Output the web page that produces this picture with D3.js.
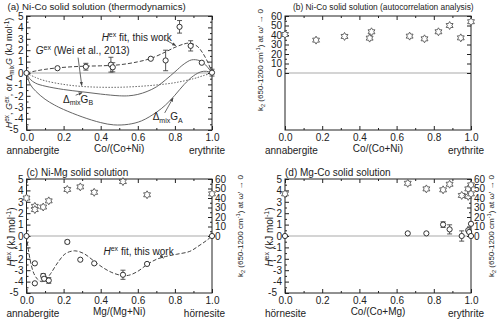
<!DOCTYPE html>
<html><head><meta charset="utf-8">
<script src="https://cdn.jsdelivr.net/npm/d3@7"></script>
<style>body{margin:0;background:#fff} svg{font-family:"Liberation Sans",Arial,sans-serif}</style>
</head><body><svg id="c" width="500" height="325"></svg>
<script>
// ---------- DATA ----------
const xTicks = [0, 0.2, 0.4, 0.6, 0.8, 1.0];
const xMinorTicks = [0.1, 0.3, 0.5, 0.7, 0.9];
const hTicks = [-5, -4, -3, -2, -1, 0, 1, 2, 3, 4, 5];
const hMinorTicks = [-4.5, -3.5, -2.5, -1.5, -0.5, 0.5, 1.5, 2.5, 3.5, 4.5];
const kTicks = [0, 10, 20, 30, 40, 50, 60];
const kMinorTicks = [5, 15, 25, 35, 45, 55];

// (a)/(b) Ni-Co
const ncX = [0, 0.167, 0.32, 0.455, 0.465, 0.67, 0.75, 0.825, 0.885, 0.945, 1.0];
const ncHex = [0, 0.42, 0.55, 0.73, 0.5, 1.25, 1.1, 4.05, 2.38, 0.9, 0.03];
const ncHexErr = [0, 0, 0.3, 0.65, 0.4, 0, 0.9, 0.55, 0.45, 0, 0.3];
const ncK2 = [40.5, 34.6, 38.5, 36.7, 43.4, 38.8, 36, 43.4, 50, 37, 54];

const ncFitX = [0, 0.05, 0.1, 0.167, 0.25, 0.32, 0.4, 0.5, 0.6, 0.67, 0.75, 0.8, 0.85, 0.88, 0.92, 0.95, 0.98, 1.0];
const ncFitY = [0, 0.18, 0.32, 0.45, 0.55, 0.6, 0.63, 0.72, 0.98, 1.28, 1.85, 2.25, 2.55, 2.62, 2.35, 1.75, 0.85, 0];
const weiX = [0, 0.05, 0.1, 0.2, 0.3, 0.4, 0.5, 0.6, 0.7, 0.8, 0.9, 0.95, 1.0];
const weiY = [0, -0.4, -0.68, -1.0, -1.18, -1.25, -1.25, -1.18, -1.05, -0.85, -0.5, -0.25, 0];
const dGbX = [0, 0.02, 0.05, 0.1, 0.2, 0.3, 0.4, 0.5, 0.55, 0.6, 0.65, 0.7, 0.75, 0.8, 0.85, 0.89, 0.93, 0.96, 1.0];
const dGbY = [0, -0.55, -0.9, -1.15, -1.45, -1.65, -1.85, -2.0, -2.0, -1.88, -1.62, -1.22, -0.6, 0.1, 0.8, 1.15, 1.1, 0.8, 0];
const dGaX = [0, 0.02, 0.05, 0.1, 0.15, 0.2, 0.3, 0.4, 0.47, 0.55, 0.62, 0.7, 0.75, 0.8, 0.85, 0.9, 0.94, 0.97, 1.0];
const dGaY = [0, -1.0, -1.6, -2.3, -2.8, -3.2, -3.85, -4.35, -4.55, -4.5, -4.2, -3.45, -2.8, -1.95, -1.0, -0.25, 0.1, 0.15, 0];

// (c) Ni-Mg
const nmX = [0, 0.045, 0.045, 0.09, 0.095, 0.12, 0.22, 0.29, 0.365, 0.52, 0.65, 1.0];
const nmHex = [0, -2.4, -4.15, -3.5, -3.75, -3.9, -0.52, -2.08, -2.4, -3.4, -2.45, 0];
const nmHexErr = [0, 0, 0, 0.2, 0.2, 0.25, 0.15, 0, 0, 0.4, 0, 0];
const nmK2X = [0, 0.045, 0.045, 0.09, 0.12, 0.22, 0.29, 0.365, 0.52, 0.65, 1.0];
const nmK2 = [40, 31.2, 27.8, 30.5, 37, 49, 51.7, 46, 57.3, 43.4, 44.4];
const nmFitX = [0, 0.01, 0.025, 0.04, 0.06, 0.08, 0.1, 0.13, 0.17, 0.21, 0.26, 0.31, 0.36, 0.41, 0.46, 0.51, 0.55, 0.6, 0.65, 0.7, 0.75, 0.81, 0.88, 0.93, 0.97, 1.0];
const nmFitY = [0, -1.2, -2.5, -3.3, -3.8, -4.0, -3.9, -3.3, -2.3, -1.55, -1.3, -1.55, -2.15, -2.75, -3.2, -3.45, -3.45, -3.1, -2.5, -2.05, -1.8, -1.6, -1.35, -0.85, -0.4, 0];

// (d) Mg-Co
const mcX = [0, 0.66, 0.76, 0.85, 0.885, 0.95, 0.985, 0.99, 1.0, 1.0];
const mcHex = [0, 0.23, 0.23, 1.0, 0.58, 0.0, 0.5, 0.35, 1.07, 0];
const mcHexErr = [0, 0, 0, 0.25, 0.4, 0.45, 0, 0, 0, 0];
const mcK2X = [0, 0.66, 0.76, 0.85, 0.885, 0.95, 0.985, 0.985, 1.0, 1.0];
const mcK2 = [44.4, 55.5, 49.6, 48.6, 54.5, 42.7, 49.6, 41.7, 53.8, 44.4];

// ---------- DRAWING ----------
const svg = d3.select('#c');
const FS = 10;
const INK = '#222';

svg.append('defs').append('marker').attr('id','arr').attr('viewBox','0 0 10 10')
  .attr('refX',9).attr('refY',5).attr('markerWidth',5).attr('markerHeight',5).attr('orient','auto')
  .append('path').attr('d','M0,1L10,5L0,9Z').attr('fill','#444');

function rich(g, parts, fs) {
  const t = g.append('text').attr('font-size', fs).attr('fill', INK);
  let shift = 0;
  parts.forEach(p => {
    const ts = t.append('tspan').text(p.t);
    let target = 0, size = fs;
    if (p.sup) { target = -fs * 0.38; size = fs * 0.7; }
    if (p.sub) { target = fs * 0.25; size = fs * 0.7; }
    ts.attr('font-size', size);
    if (p.i) ts.attr('font-style', 'italic');
    if (target !== shift) { ts.attr('dy', target - shift); shift = target; }
  });
  return t;
}

const hexStar = {
  draw(ctx, size) {
    const R = Math.sqrt(size) * 0.75, r = R / Math.sqrt(3);
    for (let i = 0; i < 12; i++) {
      const a = i * Math.PI / 6 - Math.PI / 2;
      const rr = i % 2 === 0 ? R : r;
      const px = rr * Math.cos(a), py = rr * Math.sin(a);
      if (i === 0) ctx.moveTo(px, py); else ctx.lineTo(px, py);
    }
    ctx.closePath();
  }
};

function styleAxis(a) {
  a.attr('font-size', FS).attr('font-family', null);
  a.select('.domain').remove();
  a.selectAll('line').attr('stroke', INK);
  a.selectAll('text').attr('fill', INK);
  return a;
}

function panel(o) {
  const g = svg.append('g');
  const x = d3.scaleLinear().domain([0, 1]).range([o.l, o.r]);
  const y = d3.scaleLinear().domain([-5, 5]).range([o.b, o.t]);
  const y2 = d3.scaleLinear().domain([-60, 60]).range([o.b, o.t]);
  const fmt = d => String(d);
  g.append('line').attr('x1', x(0)).attr('x2', x(1)).attr('y1', y(0)).attr('y2', y(0))
    .attr('stroke', '#aaa').attr('stroke-width', 1.2);
  styleAxis(g.append('g').attr('transform', `translate(0,${o.b})`)
    .call(d3.axisBottom(x).tickValues(xTicks).tickFormat(d3.format('.1f')).tickSize(-4).tickSizeOuter(0).tickPadding(4)));
  styleAxis(g.append('g').attr('transform', `translate(0,${o.b})`)
    .call(d3.axisBottom(x).tickValues(xMinorTicks).tickFormat('').tickSize(-2).tickSizeOuter(0)));
  styleAxis(g.append('g').attr('transform', `translate(0,${o.t})`)
    .call(d3.axisTop(x).tickValues(xTicks).tickFormat('').tickSize(-4).tickSizeOuter(0)));
  styleAxis(g.append('g').attr('transform', `translate(0,${o.t})`)
    .call(d3.axisTop(x).tickValues(xMinorTicks).tickFormat('').tickSize(-2).tickSizeOuter(0)));
  if (o.leftK) {
    styleAxis(g.append('g').attr('transform', `translate(${o.l},0)`)
      .call(d3.axisLeft(y2).tickValues(kTicks).tickFormat(fmt).tickSize(-4).tickSizeOuter(0).tickPadding(3)));
    styleAxis(g.append('g').attr('transform', `translate(${o.l},0)`)
      .call(d3.axisLeft(y2).tickValues(kMinorTicks).tickFormat('').tickSize(-2).tickSizeOuter(0)));
    styleAxis(g.append('g').attr('transform', `translate(${o.r},0)`)
      .call(d3.axisRight(y2).tickValues(kTicks).tickFormat('').tickSize(-4).tickSizeOuter(0)));
  } else {
    const la = styleAxis(g.append('g').attr('transform', `translate(${o.l},0)`)
      .call(d3.axisLeft(y).tickValues(hTicks).tickFormat(fmt).tickSize(-4).tickSizeOuter(0).tickPadding(3)));
    la.selectAll('.tick text').filter(d => d === -5).attr('dy', '0.2em').attr('x', -8);
    styleAxis(g.append('g').attr('transform', `translate(${o.l},0)`)
      .call(d3.axisLeft(y).tickValues(hMinorTicks).tickFormat('').tickSize(-2).tickSizeOuter(0)));
    if (o.rightK) {
      styleAxis(g.append('g').attr('transform', `translate(${o.r},0)`)
        .call(d3.axisRight(y2).tickValues(kTicks).tickFormat(fmt).tickSize(-4).tickSizeOuter(0).tickPadding(3)));
      styleAxis(g.append('g').attr('transform', `translate(${o.r},0)`)
        .call(d3.axisRight(y2).tickValues(kMinorTicks).tickFormat('').tickSize(-2).tickSizeOuter(0)));
    } else {
      styleAxis(g.append('g').attr('transform', `translate(${o.r},0)`)
        .call(d3.axisRight(y).tickValues(hTicks).tickFormat('').tickSize(-4).tickSizeOuter(0)));
      styleAxis(g.append('g').attr('transform', `translate(${o.r},0)`)
        .call(d3.axisRight(y).tickValues(hMinorTicks).tickFormat('').tickSize(-2).tickSizeOuter(0)));
    }
  }
  g.append('rect').attr('x', o.l).attr('y', o.t).attr('width', o.r - o.l).attr('height', o.b - o.t)
    .attr('fill', 'none').attr('stroke', INK).attr('stroke-width', 1);
  g.append('text').attr('x', o.l + o.titleDx).attr('y', o.t - o.titleGap).attr('font-size', o.titleFs || FS).attr('fill', INK).text(o.title);
  g.append('text').attr('x', (o.l + o.r) / 2).attr('y', o.b + 22).attr('text-anchor', 'middle')
    .attr('font-size', FS).attr('fill', INK).text(o.xTitle);
  g.append('text').attr('x', o.l - 20).attr('y', o.b + 24).attr('font-size', FS).attr('fill', INK).text(o.leftName);
  g.append('text').attr('x', o.r + 13).attr('y', o.b + 24).attr('text-anchor', 'end').attr('font-size', FS).attr('fill', INK).text(o.rightName);
  return { g, x, y, y2, o };
}

const k2Label = [{t:'k'},{t:'2',sub:1},{t:' (650-1200 cm'},{t:'-1',sup:1},{t:') at ω\u2032 \u2192 0'}];
const hexLabel = [{t:'H',i:1},{t:'ex',sup:1},{t:' (kJ mol'},{t:'-1',sup:1},{t:')'}];

function yTitle(P, parts, xPos, yCenter, fs) {
  rich(P.g, parts, fs).attr('text-anchor', 'middle')
    .attr('transform', `translate(${xPos},${yCenter}) rotate(-90)`);
}

function lineOf(P, xs, ys, scale, style) {
  const pts = xs.map((v, i) => [v, ys[i]]);
  P.g.append('path').attr('d', d3.line().x(d => P.x(d[0])).y(d => scale(d[1])).curve(d3.curveCatmullRom.alpha(0.5))(pts))
    .attr('fill', 'none').attr('stroke', style.c).attr('stroke-width', style.w || 1)
    .attr('stroke-dasharray', style.dash || null);
}

function circles(P, xs, ys, errs) {
  const cg = P.g.append('g');
  xs.forEach((v, i) => {
    const e = errs[i];
    if (e > 0) {
      const cx = P.x(v), y1 = P.y(ys[i] - e), y2 = P.y(ys[i] + e);
      cg.append('line').attr('x1', cx).attr('x2', cx).attr('y1', y1).attr('y2', y2).attr('stroke', '#444').attr('stroke-width', 0.9);
      [y1, y2].forEach(yy => cg.append('line').attr('x1', cx - 2.5).attr('x2', cx + 2.5).attr('y1', yy).attr('y2', yy).attr('stroke', '#444').attr('stroke-width', 0.9));
    }
  });
  cg.selectAll('circle').data(xs.map((v, i) => [v, ys[i]])).join('circle')
    .attr('cx', d => P.x(d[0])).attr('cy', d => P.y(d[1])).attr('r', 2.6)
    .attr('fill', '#fff').attr('stroke', '#333').attr('stroke-width', 1);
}

function stars(P, xs, ys) {
  P.g.append('g').selectAll('path').data(xs.map((v, i) => [v, ys[i]])).join('path')
    .attr('transform', d => `translate(${P.x(d[0])},${P.y2(d[1])})`)
    .attr('d', d3.symbol(hexStar, 28))
    .attr('fill', '#fff').attr('stroke', '#555').attr('stroke-width', 0.9);
}

function leader(P, x1, y1, x2, y2) {
  P.g.append('line').attr('x1', P.x(x1)).attr('y1', P.y(y1)).attr('x2', P.x(x2)).attr('y2', P.y(y2))
    .attr('stroke', '#444').attr('stroke-width', 0.8).attr('marker-end', 'url(#arr)');
}
function note(P, parts, xv, yv) {
  rich(P.g, parts, FS).attr('x', P.x(xv)).attr('y', P.y(yv));
}

// ---------- Panel (a) ----------
const A = panel({ l: 26.5, r: 212, t: 16, b: 130, titleDx: -19, titleGap: 6, titleFs: 9.7, title: '(a) Ni-Co solid solution (thermodynamics)',
  xTitle: 'Co/(Co+Ni)', leftName: 'annabergite', rightName: 'erythrite' });
yTitle(A, [{t:'H',i:1},{t:'ex',sup:1},{t:', '},{t:'G',i:1},{t:'ex',sup:1},{t:', or Δ'},{t:'mix',sub:1},{t:'G',i:1},{t:' (kJ mol'},{t:'-1',sup:1},{t:')'}], 12, 73, 9);
lineOf(A, dGaX, dGaY, A.y, { c: '#666', w: 1 });
lineOf(A, dGbX, dGbY, A.y, { c: '#666', w: 1 });
lineOf(A, weiX, weiY, A.y, { c: '#666', w: 1, dash: '1.5,1.5' });
lineOf(A, ncFitX, ncFitY, A.y, { c: '#444', w: 1, dash: '4,2' });
circles(A, ncX, ncHex, ncHexErr);
note(A, [{t:'H',i:1},{t:'ex',sup:1},{t:' fit, this work'}], 0.405, 2.8);
leader(A, 0.745, 2.95, 0.805, 2.4);
note(A, [{t:'G',i:1},{t:'ex',sup:1},{t:' (Wei et al., 2013)'}], 0.05, 1.7);
leader(A, 0.278, 1.35, 0.298, -1.1);
note(A, [{t:'Δ'},{t:'mix',sub:1},{t:'G'},{t:'B',sub:1}], 0.197, -2.6);
leader(A, 0.265, -1.95, 0.3, -1.72);
note(A, [{t:'Δ'},{t:'mix',sub:1},{t:'G'},{t:'A',sub:1}], 0.68, -4.15);
leader(A, 0.745, -3.5, 0.79, -2.2);

// ---------- Panel (b) ----------
const B = panel({ l: 285, r: 471, t: 16, b: 130, leftK: true, titleDx: 8, titleGap: 6, titleFs: 8.4, title: '(b) Ni-Co solid solution (autocorrelation analysis)',
  xTitle: 'Co/(Co+Ni)', leftName: 'annabergite', rightName: 'erythrite' });
yTitle(B, k2Label, 263, 60, 8);
stars(B, ncX, ncK2);

// ---------- Panel (c) ----------
const C = panel({ l: 26.5, r: 212, t: 179, b: 293, rightK: true, titleDx: 0, titleGap: 3, title: '(c) Ni-Mg solid solution',
  xTitle: 'Mg/(Mg+Ni)', leftName: 'annabergite', rightName: 'hörnesite' });
yTitle(C, hexLabel, 15, 237, 10);
yTitle(C, k2Label, 243, 226, 8);
lineOf(C, nmFitX, nmFitY, C.y, { c: '#444', w: 1, dash: '4,2' });
stars(C, nmK2X, nmK2);
circles(C, nmX, nmHex, nmHexErr);
note(C, [{t:'H',i:1},{t:'ex',sup:1},{t:' fit, this work'}], 0.415, -1.65);
leader(C, 0.71, -1.5, 0.738, -1.95);

// ---------- Panel (d) ----------
const D = panel({ l: 285, r: 471, t: 179, b: 293, rightK: true, titleDx: 0, titleGap: 3, title: '(d) Mg-Co solid solution',
  xTitle: 'Co/(Co+Mg)', leftName: 'hörnesite', rightName: 'erythrite' });
yTitle(D, hexLabel, 273, 237, 10);
yTitle(D, k2Label, 494, 226, 8);
stars(D, mcK2X, mcK2);
circles(D, mcX, mcHex, mcHexErr);
</script></body></html>
